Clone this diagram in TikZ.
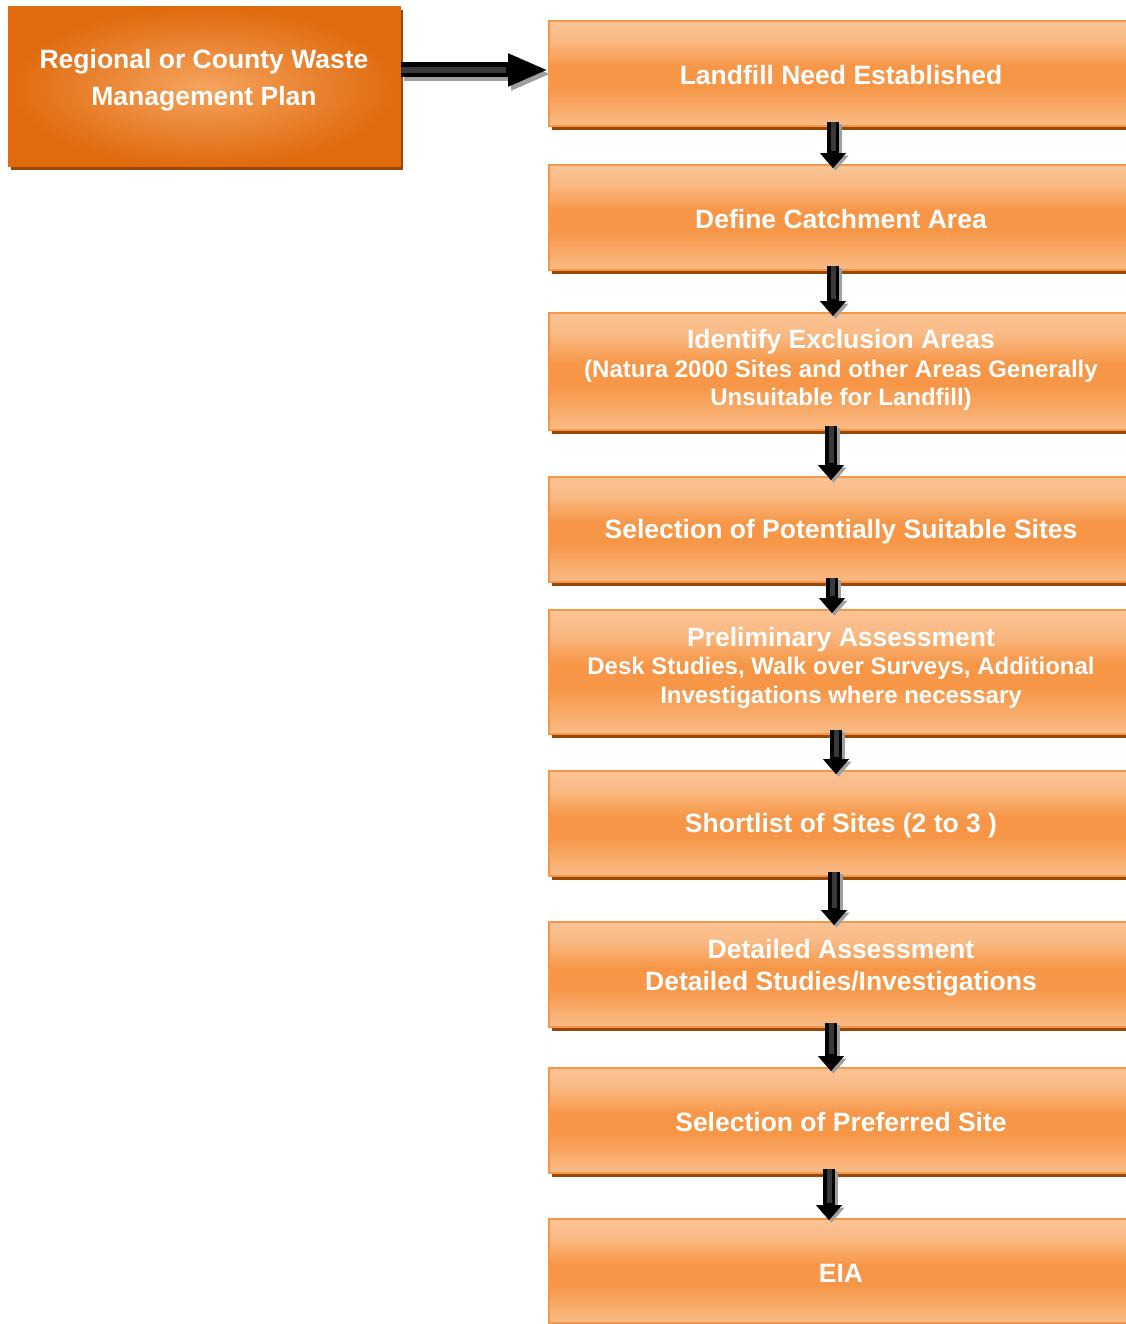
\documentclass[tikz,border=0pt]{standalone}
\usepackage{fontspec}
\setmainfont{Liberation Sans}
\usetikzlibrary{arrows.meta,calc,shadows}

\definecolor{accent}{HTML}{F79646}
\definecolor{accentlight}{HTML}{FAC394}
\definecolor{accentdark}{HTML}{E06A0E}
\definecolor{brownshadow}{HTML}{984807}
\definecolor{planglow}{HTML}{F5A45E}

% vertical band shading of the step boxes: light edges, saturated middle
\pgfdeclareverticalshading{stepshade}{100bp}{%
  color(0bp)=(accentlight); color(25bp)=(accentlight!85!accent);
  color(44bp)=(accent); color(53bp)=(accent);
  color(66bp)=(accentlight!80!accent); color(75bp)=(accentlight);
  color(100bp)=(accentlight)}

\begin{document}
\begin{tikzpicture}[x=1pt,y=-1pt,
  txt/.style={text=white, align=center,
    font=\bfseries\fontsize{24}{28.5}\selectfont},
  stepbox/.style={draw=accent, line width=1.6pt, shading=stepshade,
    minimum width=584pt, inner sep=0pt,
    drop shadow={shadow xshift=3pt, shadow yshift=-4pt,
      fill=brownshadow, opacity=1}},
  planbox/.style={draw=accentdark, line width=1pt, inner sep=0pt,
    minimum width=392pt, minimum height=160pt,
    inner color=planglow, outer color=accentdark,
    drop shadow={shadow xshift=3pt, shadow yshift=-3pt,
      fill=brownshadow, opacity=1}},
  dnarrow/.style={draw=black, line width=12pt,
    -{Triangle[length=15pt, width=25pt]},
    preaction={draw=gray!75, line width=12pt,
      transform canvas={xshift=2.5pt, yshift=-2.5pt},
      -{Triangle[length=15pt, width=25pt]}},
    postaction={draw=gray!45!black, line width=5pt, shorten >=17pt, -}},
  rtarrow/.style={draw=black, line width=15pt,
    -{Triangle[length=40pt, width=30pt]},
    preaction={draw=gray!75, line width=15pt,
      transform canvas={xshift=3pt, yshift=-4pt},
      -{Triangle[length=40pt, width=30pt]}},
    postaction={draw=gray!45!black, line width=6pt, shorten >=42pt, -}},
  big/.style={font=\bfseries\fontsize{26.5}{28.5}\selectfont, yshift=-2pt}
]
\useasboundingbox (0,0) rectangle (1125,1324);

% source plan
\node[planbox, label={[txt, name=plantext, yshift=7pt,
    font=\bfseries\fontsize{26.5}{37}\selectfont]center:Regional or County Waste\\Management Plan}]
  (plan) at (204,87) {};

% siting steps
\node[stepbox, minimum height=105pt,
  label={[txt, big, name=needtext]center:Landfill Need Established}]
  (need) at (841,73.5) {};
\node[stepbox, minimum height=105pt,
  label={[txt, big, name=catchtext]center:Define Catchment Area}]
  (catch) at (841,217.5) {};
\node[stepbox, minimum height=117pt,
  label={[txt, name=excltext, yshift=1.5pt]center:{\fontsize{26.5}{28.5}\selectfont Identify Exclusion Areas}\\(Natura 2000 Sites and other Areas Generally\\Unsuitable for Landfill)}]
  (excl) at (841,371.5) {};
\node[stepbox, minimum height=105pt,
  label={[txt, big, name=suittext]center:Selection of Potentially Suitable Sites}]
  (suit) at (841,529.5) {};
\node[stepbox, minimum height=124pt,
  label={[txt, name=prelimtext, yshift=4.5pt]center:{\fontsize{26.5}{28.5}\selectfont Preliminary Assessment}\\Desk Studies, Walk over Surveys, Additional\\Investigations where necessary}]
  (prelim) at (841,672) {};
\node[stepbox, minimum height=105pt,
  label={[txt, big, name=shorttext]center:Shortlist of Sites (2 to 3 )}]
  (short) at (841,823.5) {};
\node[stepbox, minimum height=105pt,
  label={[txt, name=detailtext, yshift=7pt,
    font=\bfseries\fontsize{26.5}{32}\selectfont]center:Detailed Assessment\\Detailed Studies/Investigations}]
  (detail) at (841,974.5) {};
\node[stepbox, minimum height=105pt,
  label={[txt, big, name=preftext]center:Selection of Preferred Site}]
  (pref) at (841,1120.5) {};
\node[stepbox, minimum height=104pt,
  label={[txt, big, name=eiatext]center:EIA}]
  (eia) at (841,1271) {};

% connectors
\coordinate (arrowrow) at (0,70);
\draw[rtarrow] (plan.east |- arrowrow) -- (need.west |- arrowrow);

\draw[dnarrow] ([xshift=-8pt, yshift=5pt]need.south) -- ([xshift=-8pt, yshift=-4pt]catch.north);
\draw[dnarrow] ([xshift=-8pt, yshift=5pt]catch.south) -- ([xshift=-8pt, yshift=-4pt]excl.north);
\draw[dnarrow] ([xshift=-10pt, yshift=5pt]excl.south) -- ([xshift=-10pt, yshift=-4pt]suit.north);
\draw[dnarrow] ([xshift=-9pt, yshift=5pt]suit.south) -- ([xshift=-9pt, yshift=-4pt]prelim.north);
\draw[dnarrow] ([xshift=-5pt, yshift=5pt]prelim.south) -- ([xshift=-5pt, yshift=-4pt]short.north);
\draw[dnarrow] ([xshift=-7pt, yshift=5pt]short.south) -- ([xshift=-7pt, yshift=-4pt]detail.north);
\draw[dnarrow] ([xshift=-10pt, yshift=5pt]detail.south) -- ([xshift=-10pt, yshift=-4pt]pref.north);
\draw[dnarrow] ([xshift=-12pt, yshift=5pt]pref.south) -- ([xshift=-12pt, yshift=-2pt]eia.north);
\end{tikzpicture}
\end{document}
